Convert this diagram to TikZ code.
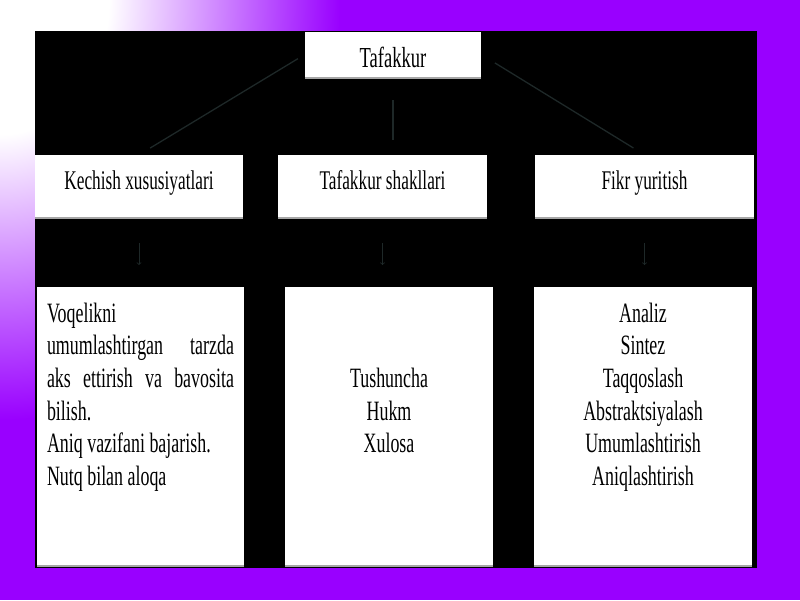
\documentclass[tikz,border=0pt]{standalone}
\usepackage{fontspec}
\usetikzlibrary{shadows}
\newfontfamily\slidefont[FakeStretch=0.64]{Liberation Serif}
\definecolor{slide}{HTML}{9900FF}
\definecolor{wire}{HTML}{1E2828}
\pgfdeclareradialshading{corner}{\pgfpoint{0bp}{0bp}}{color(0bp)=(white); color(8bp)=(white); color(25bp)=(slide); color(50bp)=(slide)}

\begin{document}
\begin{tikzpicture}[x=1pt,y=-1pt,font=\slidefont\fontsize{28}{32.7}\selectfont,
	rim/.style={drop shadow={fill=gray!70,opacity=1,shadow xshift=0pt,shadow yshift=-1.5pt}},
	box/.style={rim,fill=white,inner sep=0pt,minimum height=62pt,text height=16pt,text depth=9pt,
		font=\slidefont\fontsize{27}{32.7}\selectfont},
	panel/.style={rim,fill=white,anchor=north,inner xsep=10pt,inner ysep=12pt},
	link/.style={draw=wire,line width=1.3pt}]
\useasboundingbox (0,0) rectangle (800,600);
\fill [slide] (0,0) rectangle (800,600);
\begin{scope}
	\clip (0,0) rectangle (800,600);
	\shade [shading=corner] (0,0) ellipse [x radius=340,y radius=420];
\end{scope}
\fill [black] (35,31) rectangle (757,568);

\node [box,minimum width=176pt,minimum height=45pt,text height=26pt,text depth=0pt,
	font=\slidefont\fontsize{29}{32.7}\selectfont] (a) at (393,54.5) {Tafakkur};
\node [box,minimum width=208pt] (b1) at (139,186) {Kechish xususiyatlari};
\node [box,minimum width=209pt] (b2) at (382.5,186) {Tafakkur shakllari};
\node [box,minimum width=219pt] (b3) at (644.5,186) {Fikr yuritish};

\node [panel] (c1) at (140.5,287) {\parbox[t][254pt][t]{187pt}{\strut Voqelikni\\
	umumlashtirgan tarzda\linebreak aks ettirish va bavosita\linebreak bilish.\\
	Aniq vazifani bajarish.\\ Nutq bilan aloqa}};
\node [panel] (c2) at (389,287) {\parbox[t][254pt][t]{188pt}{\centering\strut\\ \strut\\
	Tushuncha\\ Hukm\\ Xulosa}};
\node [panel] (c3) at (643,287) {\parbox[t][254pt][t]{198pt}{\centering\strut Analiz\\ Sintez\\
	Taqqoslash\\ Abstraktsiyalash\\ Umumlashtirish\\ Aniqlashtirish}};

\draw [link,shorten <=8pt,shorten >=13pt] (a.west) to (b1.north);
\draw [link,shorten <=23pt,shorten >=15pt] (a.south) to (a.south |- b2.north);
\draw [link,shorten <=16pt,shorten >=13pt] (a.east) to (b3.north);
\draw [link,->,line width=0.8pt,shorten <=26pt,shorten >=22pt] (b1.south) to (b1.south |- c1.north);
\draw [link,->,line width=0.8pt,shorten <=26pt,shorten >=22pt] (b2.south) to (b2.south |- c2.north);
\draw [link,->,line width=0.8pt,shorten <=26pt,shorten >=22pt] (b3.south) to (b3.south |- c3.north);
\end{tikzpicture}
\end{document}
